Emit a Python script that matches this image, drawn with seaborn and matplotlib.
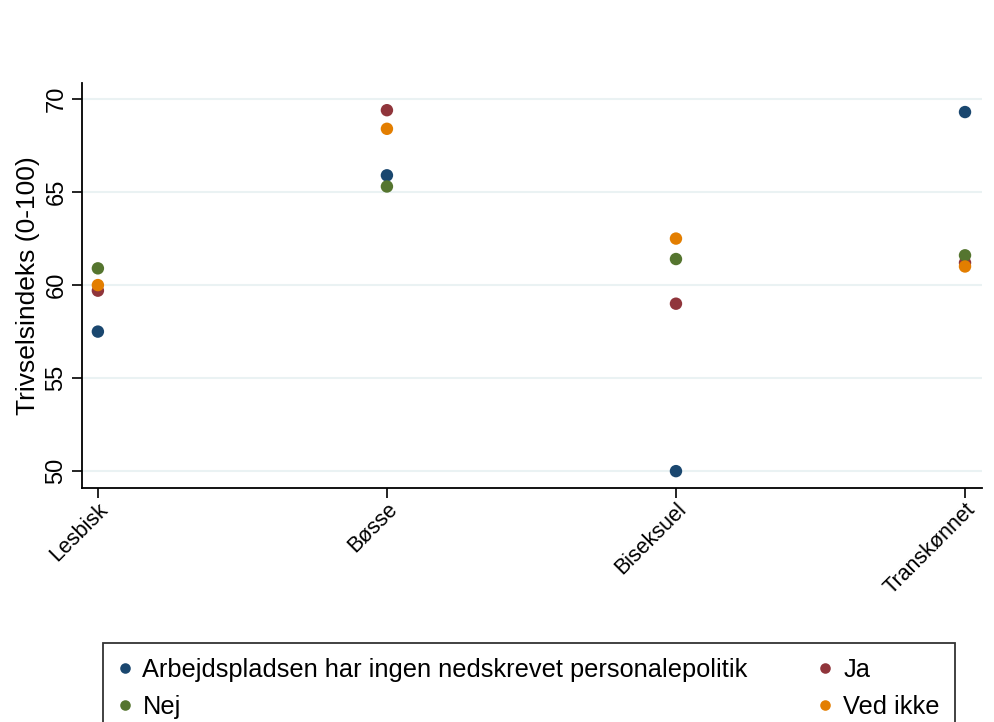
import pandas as pd
import matplotlib.pyplot as plt
import seaborn as sns

# Data
categories = ["Lesbisk", "Bøsse", "Biseksuel", "Transkønnet"]
series_names = [
    "Arbejdspladsen har ingen nedskrevet personalepolitik",
    "Ja",
    "Nej",
    "Ved ikke",
]
ingen = [57.5, 65.9, 50.0, 69.3]
ja = [59.7, 69.4, 59.0, 61.2]
nej = [60.9, 65.3, 61.4, 61.6]
ved_ikke = [60.0, 68.4, 62.5, 61.0]
yticks = [50, 55, 60, 65, 70]

colors = ["#1a476f", "#90353b", "#55752f", "#e37e00"]


def build_frame():
    rows = []
    for name, vals in zip(series_names, [ingen, ja, nej, ved_ikke]):
        for cat, v in zip(categories, vals):
            rows.append({"gruppe": cat, "svar": name, "trivsel": v})
    return pd.DataFrame(rows)


def main():
    df = build_frame()

    sns.set_style("white")
    plt.rcParams["font.family"] = ["Liberation Sans", "DejaVu Sans"]
    for key in ["text.color", "axes.labelcolor", "xtick.color", "ytick.color"]:
        plt.rcParams[key] = "black"

    fig = plt.figure(figsize=(9.95, 7.22), dpi=100)
    ax = fig.add_axes([0.0824, 0.324, 0.9046, 0.561])

    sns.scatterplot(
        data=df, x="gruppe", y="trivsel", hue="svar",
        hue_order=series_names, palette=colors,
        s=80, linewidth=0, ax=ax, legend=True, zorder=3,
    )

    handles, labels = ax.get_legend_handles_labels()
    ax.get_legend().remove()

    ax.set_xlim(-0.055, 3.059)
    ax.set_ylim(49.09, 70.86)
    ax.set_yticks(yticks)
    ax.set_yticklabels([str(t) for t in yticks], rotation=90, va="center", fontsize=17)
    ax.set_xticks(range(len(categories)))
    ax.set_xticklabels(categories, rotation=45, ha="right", rotation_mode="anchor", fontsize=15.5)
    ax.set_xlabel("")
    ax.set_ylabel("Trivselsindeks (0-100)", fontsize=19, labelpad=4)

    ax.grid(axis="y", color="#eaf2f3", linewidth=1.5)
    ax.grid(axis="x", visible=False)
    ax.set_axisbelow(True)
    for side in ["top", "right"]:
        ax.spines[side].set_visible(False)
    for side in ["left", "bottom"]:
        ax.spines[side].set_color("black")
        ax.spines[side].set_linewidth(1.3)
    ax.tick_params(axis="both", which="both", direction="out", length=7, width=1.2,
                   color="black", left=True, bottom=True)
    ax.tick_params(axis="x", pad=1)

    # legend: column-major ordering so rows read "ingen | Ja", "Nej | Ved ikke"
    order = [0, 2, 1, 3]
    leg = fig.legend(
        [handles[i] for i in order], [labels[i] for i in order],
        loc="upper left", bbox_to_anchor=(0.1035, 0.1094), borderaxespad=0,
        ncol=2, fontsize=18.3, frameon=True, fancybox=False, edgecolor="black",
        markerscale=0.85, handletextpad=0.45, handlelength=0.5,
        columnspacing=2.8, labelspacing=0.5, borderpad=0.6,
    )
    leg.get_frame().set_linewidth(1.3)

    fig.savefig("out.png", dpi=100)


if __name__ == "__main__":
    main()
